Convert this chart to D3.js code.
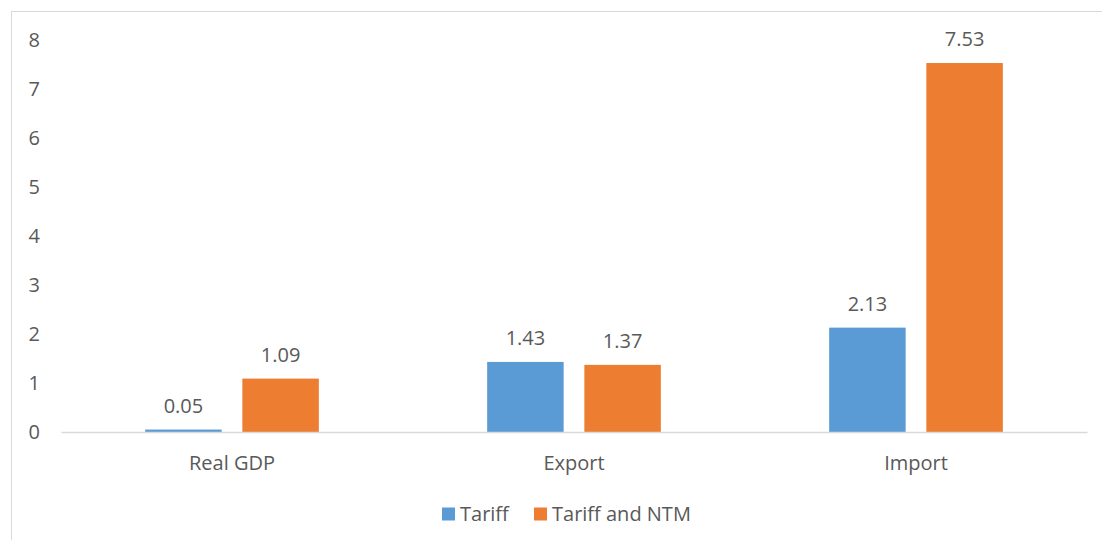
<!DOCTYPE html>
<html>
<head>
<meta charset="utf-8">
<script src="https://cdn.jsdelivr.net/npm/d3@7"></script>
<style>
  html, body { margin: 0; padding: 0; background: #fff; }
  svg { display: block; }
  text { font-family: "Open Sans", "Noto Sans", sans-serif; fill: #595959; }
</style>
</head>
<body>
<svg id="chart" width="1102" height="540"></svg>
<script>
const categories = ["Real GDP", "Export", "Import"];
const seriesNames = ["Tariff", "Tariff and NTM"];
const tariffValues = [0.05, 1.43, 2.13];
const tariffNtmValues = [1.09, 1.37, 7.53];
const yTicks = [0, 1, 2, 3, 4, 5, 6, 7, 8];
const colors = ["#5B9BD5", "#ED7D31"];

const svg = d3.select("#chart");
const W = 1102, H = 540;
const FS = "20px";

// outer border
svg.append("rect")
  .attr("x", 11.5).attr("y", 11.5)
  .attr("width", W + 20).attr("height", H + 20)
  .attr("fill", "none").attr("stroke", "#d9d9d9").attr("stroke-width", 1);

const plotLeft = 61, plotRight = 1087, plotTop = 40, plotBottom = 432;

const y = d3.scaleLinear().domain([0, 8]).range([plotBottom, plotTop]);
const x0 = d3.scaleBand().domain(categories).range([plotLeft, plotRight]).padding(0);
const x1 = d3.scaleBand().domain(seriesNames).range([0, x0.bandwidth()])
  .paddingInner(0.213).paddingOuter(0.866);

const table = categories.map((c, i) => ({
  category: c,
  values: [tariffValues[i], tariffNtmValues[i]]
}));

// y axis labels
const yAxis = d3.axisLeft(y).tickValues(yTicks).tickSize(0).tickPadding(0).tickFormat(d3.format("d"));
const yg = svg.append("g").attr("transform", `translate(40,0)`).call(yAxis);
yg.select(".domain").remove();
yg.selectAll("text").style("font-size", FS).attr("fill", "#595959")
  .style("font-family", '"Open Sans", sans-serif');

// bars
const groups = svg.append("g").selectAll("g").data(table).join("g")
  .attr("transform", d => `translate(${x0(d.category)},0)`);

groups.selectAll("rect").data(d => d.values.map((v, j) => ({ s: seriesNames[j], v, j })))
  .join("rect")
  .attr("x", d => x1(d.s))
  .attr("width", x1.bandwidth())
  .attr("y", d => y(d.v))
  .attr("height", d => y(0) - y(d.v))
  .attr("fill", d => colors[d.j]);

groups.selectAll("text.lbl").data(d => d.values.map((v, j) => ({ s: seriesNames[j], v, j })))
  .join("text").attr("class", "lbl")
  .attr("x", d => x1(d.s) + x1.bandwidth() / 2)
  .attr("y", d => y(d.v) - 17)
  .attr("text-anchor", "middle")
  .style("font-size", FS)
  .text(d => d3.format(".2f")(d.v));

// x axis
const xAxis = d3.axisBottom(x0).tickSize(0).tickPadding(0);
const xg = svg.append("g").attr("transform", `translate(0,${plotBottom})`).call(xAxis);
xg.select(".domain").attr("stroke", "#d9d9d9").attr("stroke-width", 1.5);
xg.selectAll("text").style("font-size", FS).attr("fill", "#595959")
  .style("font-family", '"Open Sans", sans-serif')
  .attr("dy", null).attr("y", 38);

// legend
const legendItems = [{ name: seriesNames[0], x: 442 }, { name: seriesNames[1], x: 534 }];
const lg = svg.append("g");
legendItems.forEach((it, i) => {
  lg.append("rect").attr("x", it.x).attr("y", 507.5).attr("width", 13).attr("height", 13)
    .attr("fill", colors[i]);
  lg.append("text").attr("x", it.x + 18).attr("y", 521).style("font-size", FS).text(it.name);
});
</script>
</body>
</html>
